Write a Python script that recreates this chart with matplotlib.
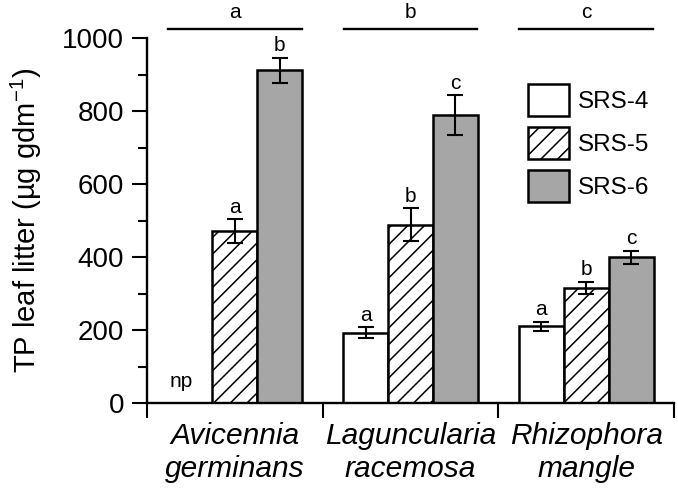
import numpy as np
import matplotlib
matplotlib.use("Agg")
import matplotlib.pyplot as plt
from matplotlib.patches import Patch

plt.rcParams['font.family'] = ['Liberation Sans', 'DejaVu Sans']
plt.rcParams['mathtext.fontset'] = 'custom'
plt.rcParams['mathtext.rm'] = 'Liberation Sans'
plt.rcParams['mathtext.it'] = 'Liberation Sans:italic'
plt.rcParams['mathtext.default'] = 'rm'
plt.rcParams['hatch.linewidth'] = 1.1

species = ["Avicennia\ngerminans", "Laguncularia\nracemosa", "Rhizophora\nmangle"]
sites = ["SRS-4", "SRS-5", "SRS-6"]
srs4 = [np.nan, 192, 210]
srs5 = [470, 488, 315]
srs6 = [911, 788, 399]
err4 = [np.nan, 15, 12]
err5 = [33, 45, 17]
err6 = [35, 55, 18]
letters4 = ["", "a", "a"]
letters5 = ["a", "b", "b"]
letters6 = ["b", "c", "c"]
group_letters = ["a", "b", "c"]

values = [srs4, srs5, srs6]
errors = [err4, err5, err6]
letters = [letters4, letters5, letters6]
faces = ["white", "white", "#a6a6a6"]
hatches = [None, "//", None]

fig = plt.figure(figsize=(6.78, 4.95), dpi=100)
ax = fig.add_axes([147/678, 1-403/495, (674-147)/678, (403-38)/495])

centers = np.arange(len(species)) + 0.5
w = 0.256
for i, (vals, errs, lets) in enumerate(zip(values, errors, letters)):
    x = centers + (i - 1) * w
    v = np.array(vals, dtype=float)
    e = np.array(errs, dtype=float)
    ax.bar(x, v, width=w, color=faces[i], edgecolor="black", linewidth=1.8,
           hatch=hatches[i], zorder=2)
    ax.errorbar(x, v, yerr=e, fmt="none", ecolor="black", elinewidth=1.5,
                capsize=6, capthick=1.5, zorder=3)
    for xx, vv, ee, lt in zip(x, v, e, lets):
        if lt and not np.isnan(vv):
            ax.annotate(lt, (xx, vv + ee), xytext=(0, 2), textcoords="offset points",
                        ha="center", va="bottom", fontsize=15)

ax.text(centers[0] - w - 0.05, 45, "np", ha="center", va="baseline", fontsize=15)

for c, gl in zip(centers, group_letters):
    ax.plot([c - 0.38, c + 0.38], [1026, 1026], color="black", lw=1.7, clip_on=False)
    ax.text(c, 1045, gl, ha="center", va="bottom", fontsize=15, clip_on=False)

ax.set_xlim(0, 3)
ax.set_ylim(0, 1000)
ax.set_xticks([0, 1, 2, 3])
ax.set_xticklabels([])
ax.set_xticks(centers, minor=True)
ax.set_xticklabels(species, minor=True, fontsize=21.5, style="italic")
ax.tick_params(axis="x", which="major", direction="out", length=11, width=1.5)
ax.tick_params(axis="x", which="minor", length=0, pad=14)
ax.set_yticks(np.arange(0, 1001, 200))
ax.set_yticks(np.arange(100, 1000, 200), minor=True)
ax.tick_params(axis="y", which="major", direction="out", length=11, width=1.5,
               labelsize=20, pad=5.5)
ax.tick_params(axis="y", which="minor", direction="out", length=6.5, width=1.5)
for s in ["top", "right"]:
    ax.spines[s].set_visible(False)
for s in ["left", "bottom"]:
    ax.spines[s].set_linewidth(1.7)

ax.set_ylabel("TP leaf litter (µg gdm$^{-1}$)", fontsize=21, labelpad=13)

handles = [Patch(facecolor=faces[i], edgecolor="black", linewidth=1.8, hatch=hatches[i])
           for i in range(3)]
fig.legend(handles, sites, loc="upper left", bbox_to_anchor=(528/678, 1-84/495),
           frameon=False, fontsize=17.5, handlelength=1.7, handleheight=1.65,
           labelspacing=0.45, handletextpad=0.35, borderpad=0, borderaxespad=0)

fig.savefig("out.png", dpi=100)
